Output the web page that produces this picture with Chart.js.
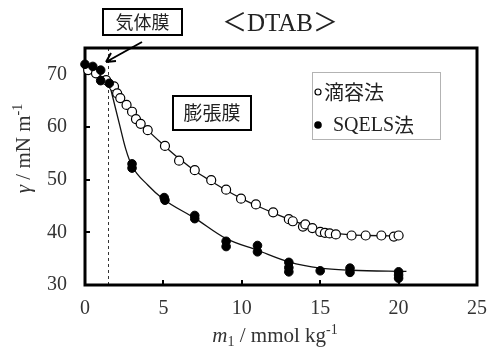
<!DOCTYPE html>
<html>
<head>
<meta charset="utf-8">
<script src="https://cdn.jsdelivr.net/npm/chart.js@4"></script>
<style>
  body { margin: 0; background: #fff; }
  #wrap { width: 499px; height: 351px; position: relative; }
</style>
</head>
<body>
<div id="wrap"><canvas id="chart"></canvas></div>
<script>
// data
const dropX = [0.2, 0.7, 1.35, 1.85, 2.05, 2.25, 2.65, 3.0, 3.25, 3.55, 4.0, 5.1, 6.0, 7.0, 8.05, 9.0, 9.95, 10.9, 12.0, 13.0, 13.25, 13.9, 14.05, 14.5, 15.0, 15.3, 15.6, 16.0, 17.0, 17.9, 18.9, 19.7, 20.0];
const dropY = [70.8, 70.2, 68.9, 67.7, 66.4, 65.5, 64.2, 62.9, 61.5, 60.6, 59.4, 56.4, 53.6, 51.8, 49.9, 48.1, 46.4, 45.3, 43.8, 42.5, 42.1, 41.1, 41.5, 40.8, 40.1, 39.9, 39.8, 39.6, 39.4, 39.4, 39.4, 39.2, 39.4];

const sqelsX = [0, 0.5, 1.0, 1.0, 1.55, 3.0, 3.0, 5.05, 5.1, 7.0, 7.0, 9.0, 9.0, 11.0, 11.0, 13.0, 13.0, 13.0, 15.0, 16.9, 16.9, 20.0, 20.0, 20.0];
const sqelsY = [71.9, 71.5, 70.8, 68.8, 68.3, 53.0, 52.2, 46.6, 46.1, 43.2, 42.6, 38.3, 37.3, 37.5, 36.3, 34.3, 33.3, 32.5, 32.7, 33.2, 32.4, 32.5, 31.9, 31.3];

// fitted curves (traced)
const dropFitX = [0, 0.7, 1.5, 2, 3, 4, 5, 6, 7, 8, 9, 10, 11, 12, 13, 14, 15, 16, 17, 18, 20.2];
const dropFitY = [71.0, 70.2, 68.6, 66.6, 62.8, 59.4, 56.6, 54.0, 51.7, 49.8, 48.0, 46.4, 45.0, 43.7, 42.5, 41.4, 40.4, 39.8, 39.5, 39.4, 39.3];
const sqelsFitX = [1.55, 2.2, 2.6, 3, 4, 5, 7, 9, 11, 13, 15, 17, 20.5];
const sqelsFitY = [68.3, 60.5, 55.8, 52.6, 49.0, 46.3, 42.7, 38.8, 36.6, 34.4, 33.2, 32.8, 32.6];

const xTicks = [0, 5, 10, 15, 20, 25];
const yTicks = [30, 40, 50, 60, 70];
const boundaryX = 1.45;

const toPts = (xs, ys) => xs.map((x, i) => ({ x: x, y: ys[i] }));

const serif = '"Liberation Serif", "Times New Roman", serif';
const jp = '"Noto Sans CJK JP", sans-serif';

// draw text made of several styled pieces
const drawRich = (ctx, segs, cx, cy, size) => {
    const fontOf = s => (s.italic ? 'italic ' : '') + Math.round(size * (s.scale || 1)) + 'px ' + serif;
    let total = 0;
    segs.forEach(s => { ctx.font = fontOf(s); total += ctx.measureText(s.t).width; });
    let x = cx - total / 2;
    ctx.textAlign = 'left';
    ctx.textBaseline = 'alphabetic';
    segs.forEach(s => {
        ctx.font = fontOf(s);
        ctx.fillText(s.t, x, cy + (s.dy || 0));
        x += ctx.measureText(s.t).width;
    });
};

const decor = {
    id: 'decor',
    beforeDatasetsDraw(chart) {
        const { ctx, chartArea: a, scales: { x, y } } = chart;
        ctx.save();
        // dashed boundary line
        ctx.strokeStyle = '#333';
        ctx.lineWidth = 1;
        ctx.setLineDash([3, 3]);
        const bx = Math.round(x.getPixelForValue(boundaryX)) + 0.5;
        ctx.beginPath();
        ctx.moveTo(bx, a.top);
        ctx.lineTo(bx, a.bottom);
        ctx.stroke();
        ctx.setLineDash([]);
        // frame
        ctx.strokeStyle = '#000';
        ctx.lineWidth = 3;
        ctx.strokeRect(a.left, a.top, a.right - a.left, a.bottom - a.top);
        // inward ticks
        ctx.lineWidth = 2;
        ctx.beginPath();
        xTicks.slice(1, -1).forEach(v => {
            const px = Math.round(x.getPixelForValue(v));
            ctx.moveTo(px, a.bottom);
            ctx.lineTo(px, a.bottom - 5);
        });
        yTicks.slice(1).forEach(v => {
            const py = Math.round(y.getPixelForValue(v));
            ctx.moveTo(a.left, py);
            ctx.lineTo(a.left + 5, py);
        });
        ctx.stroke();
        ctx.restore();
    },
    afterDraw(chart) {
        const { ctx, chartArea: a } = chart;
        ctx.save();
        ctx.fillStyle = '#222';
        ctx.strokeStyle = '#000';

        // title
        ctx.font = '25px ' + serif + ', ' + jp;
        ctx.textAlign = 'center';
        ctx.textBaseline = 'middle';
        ctx.fillText('＜DTAB＞', 280, 24);

        // 気体膜 box + arrow
        ctx.lineWidth = 2;
        ctx.strokeRect(103, 9, 79, 26);
        ctx.font = '18px ' + jp;
        ctx.fillText('気体膜', 142.5, 22);
        ctx.lineWidth = 2;
        ctx.beginPath();
        ctx.moveTo(142, 42);
        ctx.lineTo(106, 62);
        ctx.moveTo(106, 62);
        ctx.lineTo(111, 53);
        ctx.moveTo(106, 62);
        ctx.lineTo(116, 61);
        ctx.stroke();

        // 膨張膜 box
        ctx.lineWidth = 2;
        ctx.fillStyle = '#fff';
        ctx.fillRect(173, 96, 78, 34);
        ctx.strokeRect(173, 96, 78, 34);
        ctx.fillStyle = '#222';
        ctx.font = '19px ' + jp;
        ctx.fillText('膨張膜', 212, 113);

        // legend
        ctx.lineWidth = 1;
        ctx.strokeStyle = '#666';
        ctx.setLineDash([1, 1]);
        ctx.strokeRect(312.5, 72.5, 128, 67);
        ctx.setLineDash([]);
        ctx.strokeStyle = '#000';
        ctx.lineWidth = 1.2;
        ctx.beginPath();
        ctx.arc(318, 92, 3, 0, Math.PI * 2);
        ctx.stroke();
        ctx.fillStyle = '#000';
        ctx.beginPath();
        ctx.arc(318, 125, 3.8, 0, Math.PI * 2);
        ctx.fill();
        ctx.fillStyle = '#222';
        ctx.textAlign = 'left';
        ctx.font = '20px ' + jp;
        ctx.fillText('滴容法', 324, 92);
        ctx.font = '20px ' + serif;
        ctx.fillText('SQELS', 333, 126);
        const w = ctx.measureText('SQELS').width;
        ctx.font = '20px ' + jp;
        ctx.fillText('法', 333 + w, 125);

        // axis titles
        ctx.fillStyle = '#333';
        drawRich(ctx, [
            { t: 'm', italic: true },
            { t: '1', scale: 0.65, dy: 4 },
            { t: ' / mmol kg' },
            { t: '-1', scale: 0.65, dy: -8 }
        ], (a.left + a.right) / 2 - 6, 342, 21);

        ctx.save();
        ctx.translate(30, (a.top + a.bottom) / 2 - 18);
        ctx.rotate(-Math.PI / 2);
        drawRich(ctx, [
            { t: 'γ', italic: true },
            { t: ' / mN m' },
            { t: '-1', scale: 0.65, dy: -8 }
        ], 0, 0, 21);
        ctx.restore();

        ctx.restore();
    }
};

const tickFont = { family: 'Liberation Serif', size: 20 };

new Chart(document.getElementById('chart'), {
    type: 'scatter',
    data: {
        datasets: [
            {
                label: 'SQELS法',
                data: toPts(sqelsX, sqelsY),
                backgroundColor: '#000',
                borderColor: '#000',
                pointRadius: 4.3,
                borderWidth: 1,
                clip: false,
                order: 0
            },
            {
                label: '滴容法',
                data: toPts(dropX, dropY),
                backgroundColor: '#fff',
                borderColor: '#000',
                pointRadius: 4.5,
                borderWidth: 1.2,
                clip: false,
                order: 1
            },
            {
                label: 'fit drop',
                data: toPts(dropFitX, dropFitY),
                showLine: true,
                pointRadius: 0,
                borderColor: '#111',
                borderWidth: 1.3,
                cubicInterpolationMode: 'monotone',
                order: 2
            },
            {
                label: 'fit sqels',
                data: toPts(sqelsFitX, sqelsFitY),
                showLine: true,
                pointRadius: 0,
                borderColor: '#111',
                borderWidth: 1.3,
                cubicInterpolationMode: 'monotone',
                order: 2
            }
        ]
    },
    options: {
        responsive: true,
        maintainAspectRatio: false,
        animation: false,
        layout: { padding: { top: 48, right: 11, left: 0, bottom: 0 } },
        plugins: {
            legend: { display: false },
            tooltip: { enabled: false }
        },
        scales: {
            x: {
                type: 'linear',
                min: 0,
                max: 25,
                afterBuildTicks: s => { s.ticks = xTicks.map(v => ({ value: v })); },
                afterFit: s => { s.height = 66; },
                grid: { display: false, drawTicks: false },
                border: { display: false },
                ticks: { padding: 12, font: tickFont, color: '#333', maxRotation: 0 }
            },
            y: {
                type: 'linear',
                min: 30,
                max: 75,
                afterBuildTicks: s => { s.ticks = yTicks.map(v => ({ value: v })); },
                afterFit: s => { s.width = 85; },
                grid: { display: false, drawTicks: false },
                border: { display: false },
                ticks: { padding: 18, font: tickFont, color: '#333' }
            }
        }
    },
    plugins: [decor]
});
</script>
</body>
</html>
